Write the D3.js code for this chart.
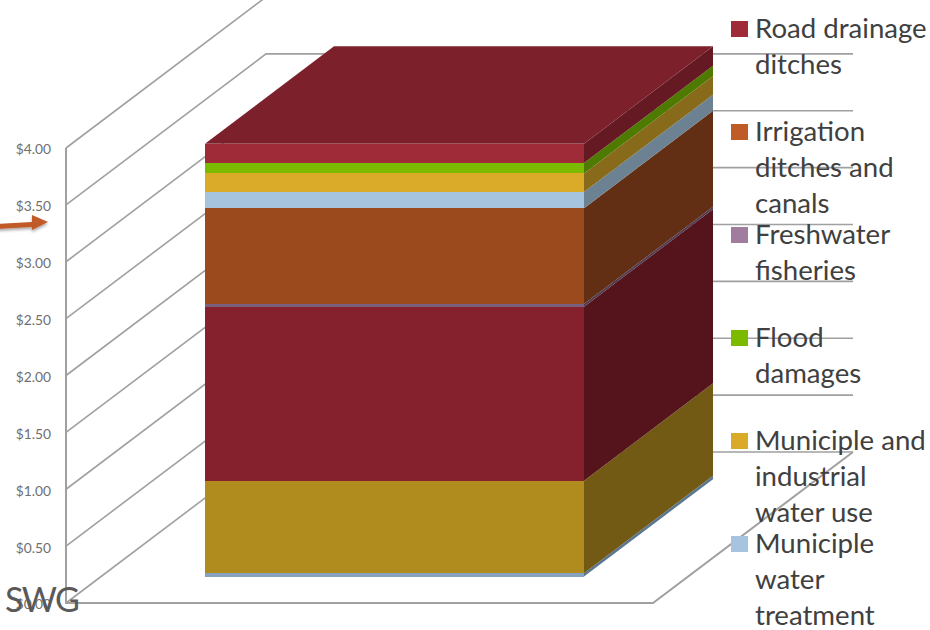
<!DOCTYPE html>
<html>
<head>
<meta charset="utf-8">
<script src="https://cdn.jsdelivr.net/npm/d3@7"></script>
<style>
  html, body { margin: 0; padding: 0; background: #fff; }
  svg { display: block; font-family: Lato, "Open Sans", sans-serif; }
</style>
</head>
<body>
<svg id="chart" width="930" height="630"></svg>
<script>
// values, bottom slice first
const sliceKeys = ["a", "b", "c", "d", "e", "f", "g", "h", "i"];
const sliceValues = [0.03, 0.813, 1.53, 0.023, 0.843, 0.141, 0.164, 0.091, 0.17];
const frontColors = ["#85A3BE", "#B08C1E", "#85212C", "#7A5F7E", "#9A4A1D", "#A6C4DE", "#DAAB28", "#7CBA00", "#A02B38"];
const sideColors = ["#5A7690", "#725A14", "#55131C", "#4F3A52", "#622F14", "#6C8292", "#876B1A", "#4F7A00", "#651A23"];
const topColor = "#7C212B";

const yTicks = [0, 0.5, 1, 1.5, 2, 2.5, 3, 3.5, 4];

const legendLabels = [
  ["Road drainage", "ditches"],
  ["Irrigation", "ditches and", "canals"],
  ["Freshwater", "fisheries"],
  ["Flood", "damages"],
  ["Municiple and", "industrial", "water use"],
  ["Municiple", "water", "treatment"]
];
const legendColors = ["#A02B38", "#BF5B27", "#A07C9E", "#7CBA00", "#DAAB28", "#A6C4DE"];

const svg = d3.select("#chart");
const grid = "#A0A0A0";

const wallX = 66;
const y = d3.scaleLinear().domain([0, 4]).range([603, 148]);
const x = d3.scaleBand().domain(["bar"]).range([0, 587]).paddingInner(0).paddingOuter(0.2744);
const depthX = d3.scaleLinear().domain([0, 1]).range([0, 200]);
const depthY = d3.scaleLinear().domain([0, 1]).range([0, -151]);

// s = across the floor, v = dollars, t = depth into the box
const project = (s, v, t) => [wallX + s + depthX(t), y(v) + depthY(t)];
const line = d3.line();

// gridlines: up the side wall, then along the back wall
svg.append("g")
  .selectAll("path")
  .data(yTicks)
  .join("path")
  .attr("d", (v) => line([project(0, v, 0), project(0, v, 1), project(587, v, 1)]))
  .attr("fill", "none")
  .attr("stroke", grid)
  .attr("stroke-width", 1.6);

// floor and left edge
svg.append("path")
  .attr("d", line([project(0, 4, 0), project(0, 0, 0), project(587, 0, 0), project(587, 0, 1)]))
  .attr("fill", "none")
  .attr("stroke", grid)
  .attr("stroke-width", 2);

// stacked bar
const row = Object.fromEntries(sliceKeys.map((k, i) => [k, sliceValues[i]]));
const layers = d3.stack().keys(sliceKeys)([row]);

const t0 = 0.175;
const t1 = 0.82;
const s0 = x("bar");
const s1 = s0 + x.bandwidth();
const total = d3.sum(sliceValues);

const bar = svg.append("g");

bar.selectAll("path.side")
  .data(layers)
  .join("path")
  .attr("class", "side")
  .attr("fill", (d, i) => sideColors[i])
  .attr("d", (d) => line([
    project(s1, d[0][0], t0), project(s1, d[0][1], t0),
    project(s1, d[0][1], t1), project(s1, d[0][0], t1)
  ]) + "Z");

bar.selectAll("path.front")
  .data(layers)
  .join("path")
  .attr("class", "front")
  .attr("shape-rendering", "crispEdges")
  .attr("fill", (d, i) => frontColors[i])
  .attr("d", (d) => line([
    project(s0, d[0][0], t0), project(s0, d[0][1], t0),
    project(s1, d[0][1], t0), project(s1, d[0][0], t0)
  ]) + "Z");

bar.append("path")
  .attr("fill", topColor)
  .attr("d", line([
    project(s0, total, t0), project(s0, total, t1),
    project(s1, total, t1), project(s1, total, t0)
  ]) + "Z");

// value axis labels
const axis = d3.axisLeft(y)
  .tickValues(yTicks)
  .tickFormat(d3.format("$.2f"))
  .tickSize(0)
  .tickPadding(0);

svg.append("g")
  .attr("transform", "translate(51,1.5)")
  .call(axis)
  .call((g) => g.select(".domain").remove())
  .call((g) => g.selectAll("text")
    .attr("font-family", "Lato, 'Open Sans', sans-serif")
    .attr("font-size", 13.8)
    .attr("fill", "#6F6F6F"));

// legend
const legendY = d3.scaleLinear().domain([0, 5]).range([29, 544]);
const legend = svg.append("g")
  .selectAll("g")
  .data(legendLabels)
  .join("g")
  .attr("transform", (d, i) => `translate(731,${legendY(i)})`);

legend.append("rect")
  .attr("x", 0)
  .attr("y", -8)
  .attr("width", 17)
  .attr("height", 16)
  .attr("fill", (d, i) => legendColors[i]);

legend.selectAll("text")
  .data((d) => d)
  .join("text")
  .attr("x", 24)
  .attr("y", (d, i) => i * 35.8 + 9)
  .attr("font-size", 27.6)
  .attr("fill", "#404040")
  .text((d) => d);

// slide furniture: the arrow and the SWG tag
const defs = svg.append("defs");
const blur = defs.append("filter").attr("id", "shadow").attr("x", "-20%").attr("y", "-50%").attr("width", "140%").attr("height", "220%");
blur.append("feDropShadow")
  .attr("dx", 0)
  .attr("dy", 2)
  .attr("stdDeviation", 1.5)
  .attr("flood-color", "#000")
  .attr("flood-opacity", 0.35);

svg.append("path")
  .attr("d", "M-4,224 L32,222 L32,215 L48,222 L32,230 L32,227 L-4,229 Z")
  .attr("fill", "#C05A25")
  .attr("filter", "url(#shadow)");

svg.append("text")
  .attr("x", 5)
  .attr("y", 612)
  .attr("font-size", 34)
  .attr("letter-spacing", -1.6)
  .attr("fill", "#595959")
  .text("SWG");
</script>
</body>
</html>
